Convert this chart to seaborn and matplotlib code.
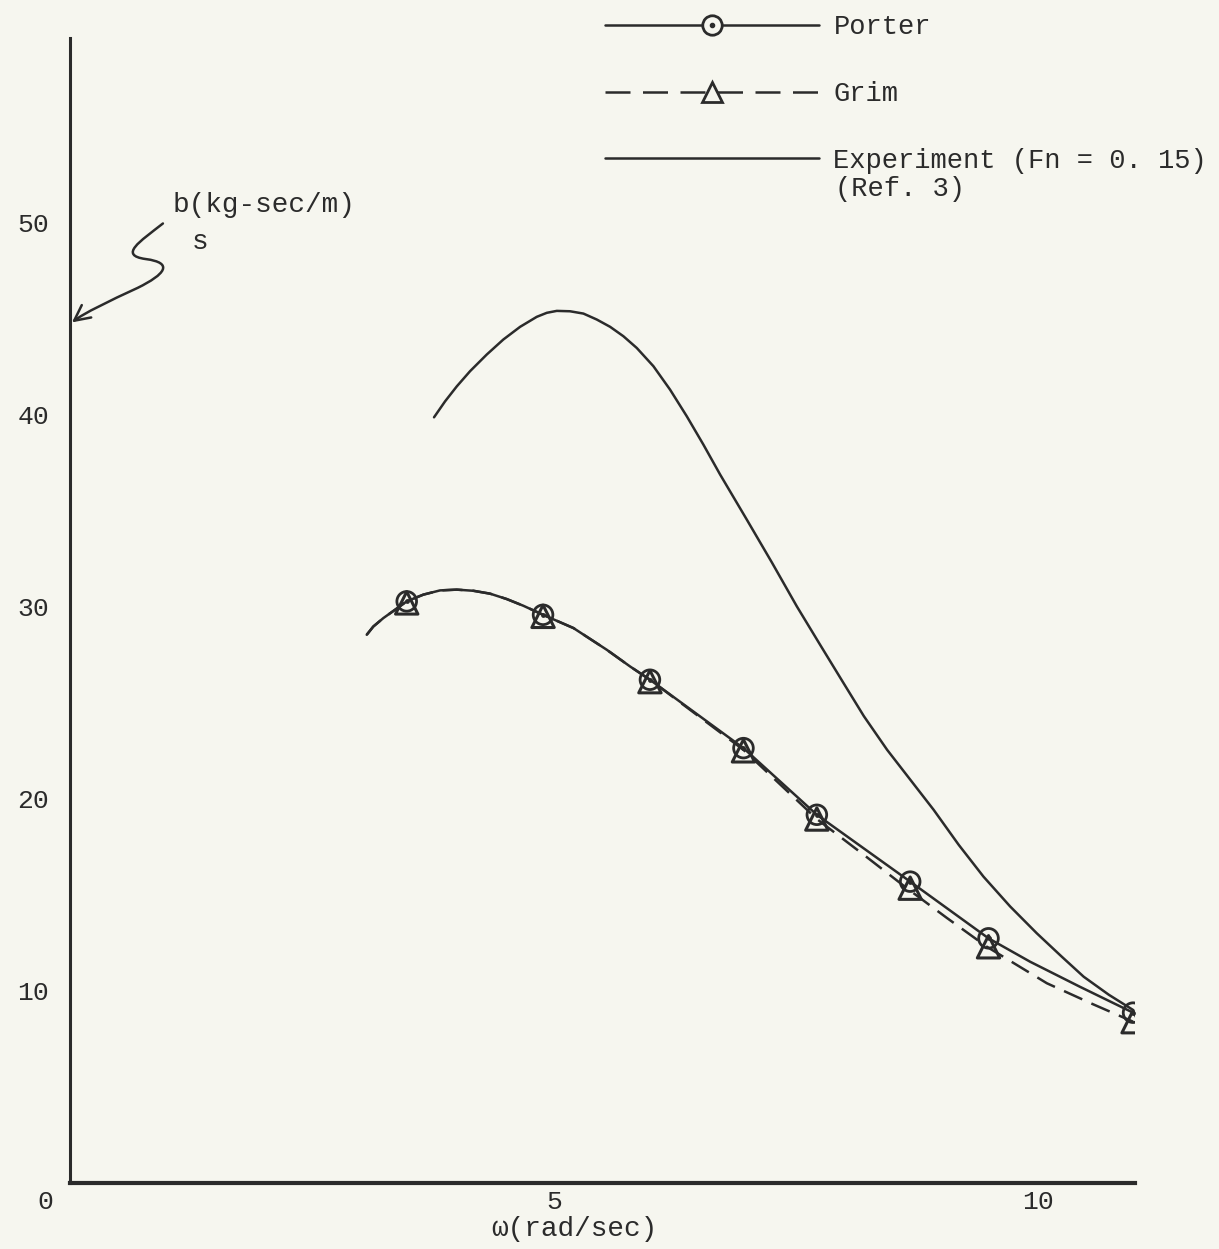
import numpy as np
import pandas as pd
import matplotlib
matplotlib.use("Agg")
import matplotlib.pyplot as plt
import seaborn as sns
from matplotlib.lines import Line2D
from matplotlib.path import Path
from matplotlib.patches import FancyArrowPatch

# values
# computed points (markers)
marker_w = [3.478, 4.886, 5.99, 6.956, 7.714, 8.678, 9.487, 10.98]
porter_b = [30.28, 29.58, 26.2, 22.64, 19.17, 15.69, 12.74, 8.87]
grim_b = [30.2, 29.5, 26.1, 22.5, 18.95, 15.35, 12.3, 8.4]

# faired curves through them
porter_curve_w = [3.065, 3.133, 3.237, 3.357, 3.478, 3.650, 3.822, 3.995, 4.167, 4.339, 4.511,
                  4.683, 4.886, 5.20, 5.544, 5.785, 5.99, 6.956, 7.714, 8.678, 9.487, 9.917,
                  10.43, 10.98]
porter_curve_b = [28.54, 28.97, 29.41, 29.84, 30.28, 30.63, 30.85, 30.89, 30.83, 30.68, 30.40,
                  30.05, 29.58, 28.89, 27.76, 26.89, 26.2, 22.64, 19.17, 15.69, 12.74, 11.52,
                  10.22, 8.87]
grim_curve_w = [3.065, 3.133, 3.237, 3.357, 3.478, 3.650, 3.822, 3.995, 4.167, 4.339, 4.511,
                4.683, 4.886, 5.20, 5.544, 5.785, 5.99, 6.956, 7.714, 8.195, 8.643, 9.057,
                9.47, 10.09, 10.57, 10.98]
grim_curve_b = [28.54, 28.97, 29.41, 29.84, 30.28, 30.63, 30.85, 30.89, 30.83, 30.68, 30.40,
                30.05, 29.58, 28.89, 27.76, 26.89, 26.2, 22.55, 18.95, 17.1, 15.35, 13.8,
                12.3, 10.4, 9.3, 8.4]

# experiment (Fn = 0.15), Ref. 3
exp_w = [3.760, 3.874, 3.995, 4.132, 4.305, 4.476, 4.649, 4.821, 4.925, 5.028, 5.165, 5.303,
         5.441, 5.579, 5.716, 5.854, 6.026, 6.198, 6.371, 6.542, 6.715, 6.991, 7.25, 7.507,
         7.75, 7.989, 8.2, 8.44, 8.92, 9.18, 9.435, 9.71, 9.986, 10.24, 10.47, 10.73, 10.98]
exp_b = [39.86, 40.69, 41.47, 42.26, 43.13, 43.91, 44.57, 45.09, 45.30, 45.40, 45.38, 45.26,
         44.95, 44.57, 44.08, 43.47, 42.52, 41.30, 39.91, 38.44, 36.88, 34.53, 32.3, 30.02,
         28.0, 26.03, 24.3, 22.55, 19.43, 17.6, 15.95, 14.4, 13.0, 11.8, 10.74, 9.8, 9.01]

y_ticks = [10, 20, 30, 40, 50]
x_ticks = [5, 10]

ink = "#2b2b2b"
paper = "#f6f6ef"

sns.set_style("white")
plt.rcParams["font.family"] = ["Liberation Mono", "DejaVu Serif"]

fig = plt.figure(figsize=(12.19, 12.49), dpi=100, facecolor=paper)
ax = fig.add_axes([0.0574, 0.0528, 0.8737, 0.9167])
ax.set_facecolor(paper)

# curves
sns.lineplot(x=exp_w, y=exp_b, sort=False, estimator=None, color=ink, lw=1.8, ax=ax)
sns.lineplot(x=porter_curve_w, y=porter_curve_b, sort=False, estimator=None, color=ink, lw=1.8, ax=ax)
ax.plot(grim_curve_w, grim_curve_b, color=ink, lw=1.8, dashes=(8, 4))

# markers
sns.scatterplot(x=marker_w, y=grim_b, marker="^", s=260, facecolor="none",
                edgecolor=ink, linewidth=2.2, ax=ax, zorder=4)
sns.scatterplot(x=marker_w, y=porter_b, marker="o", s=200, facecolor="none",
                edgecolor=ink, linewidth=2.0, ax=ax, zorder=5)
sns.scatterplot(x=marker_w, y=porter_b, marker="o", s=12, color=ink, linewidth=0, ax=ax, zorder=6)

ax.set_xlim(0, 11)
ax.set_ylim(0, 59.6)
ax.set_xticks(x_ticks)
ax.set_xticklabels([str(t) for t in x_ticks])
ax.set_yticks(y_ticks)
ax.set_yticklabels([str(t) for t in y_ticks])
ax.tick_params(direction="in", length=14, width=2.2, colors=ink, labelsize=19, pad=5)
ax.tick_params(axis="y", pad=15)

for side in ["top", "right"]:
    ax.spines[side].set_visible(False)
ax.spines["left"].set_color(ink)
ax.spines["left"].set_linewidth(2.2)
ax.spines["bottom"].set_color(ink)
ax.spines["bottom"].set_linewidth(3.0)

ax.annotate("0", xy=(0, 0), xytext=(-18, -5), textcoords="offset points",
            ha="center", va="top", fontsize=19, color=ink)
ax.set_xlabel("\u03c9(rad/sec)", fontsize=20, color=ink)
ax.xaxis.set_label_coords(0.474, -0.029)

# axis quantity with a hand-drawn style squiggle arrow to the y axis
ax.text(1.06, 50.9, "b(kg-sec/m)", fontsize=20, color=ink, va="center")
ax.text(1.34, 49.0, "s", fontsize=20, color=ink, va="center", ha="center")
verts = [(0.96, 49.95), (0.72, 49.0), (0.50, 48.3), (0.78, 48.1),
         (1.08, 47.9), (0.98, 47.3), (0.70, 46.6),
         (0.40, 45.9), (0.15, 45.3), (0.02, 44.8)]
codes = [Path.MOVETO] + [Path.CURVE4] * 9
squiggle = FancyArrowPatch(path=Path(verts, codes), arrowstyle="->", mutation_scale=28,
                           color=ink, lw=1.8, transform=ax.transData, clip_on=False)
ax.add_patch(squiggle)

# legend
h_porter = (Line2D([], [], color=ink, lw=1.8),
            Line2D([], [], color=ink, lw=0, marker="o", markersize=14, markerfacecolor=paper,
                   markeredgecolor=ink, markeredgewidth=2.0),
            Line2D([], [], color=ink, lw=0, marker="o", markersize=3))
h_grim = (Line2D([], [], color=ink, lw=1.8, dashes=(10, 5)),
          Line2D([], [], color=ink, lw=0, marker="^", markersize=15, markerfacecolor=paper,
                 markeredgecolor=ink, markeredgewidth=2.0))
h_exp = Line2D([], [], color=ink, lw=1.8)
fig.legend([h_porter, h_grim, h_exp], ["Porter", "Grim", "Experiment (Fn = 0. 15)"],
           loc="upper left", bbox_to_anchor=(0.476, 1.008), frameon=False, fontsize=19.5,
           handlelength=7.9, handletextpad=0.55, labelspacing=1.5, labelcolor=ink)
fig.text(0.685, 0.849, "(Ref. 3)", fontsize=19.5, color=ink, va="center")

fig.savefig("out.png", dpi=100, facecolor=paper)
